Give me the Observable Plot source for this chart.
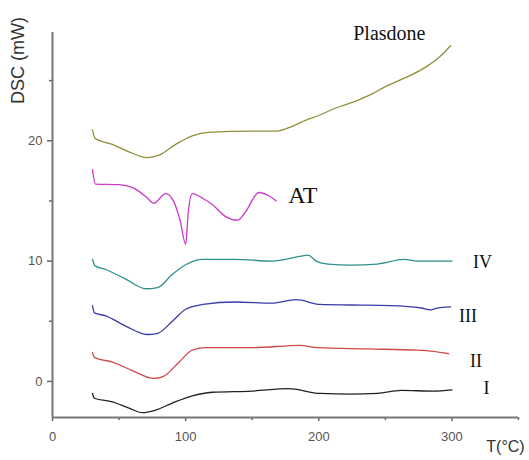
<!DOCTYPE html>
<html>
<head>
<meta charset="utf-8">
<script src="https://cdn.jsdelivr.net/npm/d3@7"></script>
<script src="https://cdn.jsdelivr.net/npm/@observablehq/plot@0.6"></script>
<style>
  html, body { margin: 0; padding: 0; background: #fff; }
</style>
</head>
<body>
<div id="chart"></div>
<script>
// Temperature (°C) and DSC (mW) readings for each curve
const plasdoneT = [30, 32, 45, 57, 71, 80, 92.5, 105, 117, 150, 168, 180, 190, 200, 210, 220, 230, 240, 250, 260, 270, 280, 290, 299];
const plasdoneV = [20.9, 20.2, 19.7, 19.1, 18.6, 18.8, 19.7, 20.4, 20.7, 20.8, 20.8, 21.2, 21.7, 22.1, 22.6, 23.0, 23.4, 23.9, 24.5, 25.0, 25.5, 26.1, 26.9, 27.9];

const atT = [30, 32.3, 49.6, 62, 71.6, 76, 85, 91, 96, 100, 102, 105, 113, 120, 130, 139, 145, 155, 162, 168];
const atV = [17.6, 16.4, 16.35, 16.0, 15.2, 14.8, 15.6, 14.96, 13.3, 11.4, 14.1, 15.6, 15.2, 14.7, 13.7, 13.4, 14.1, 15.7, 15.45, 15.0];

const ivT = [30, 32, 40, 55, 70, 79, 90, 100, 113, 137, 165, 186, 192, 198, 207, 224, 244, 264, 274, 300];
const ivV = [10.15, 9.6, 9.3, 8.5, 7.7, 7.8, 8.9, 9.7, 10.15, 10.15, 10.0, 10.4, 10.5, 10.0, 9.75, 9.67, 9.75, 10.15, 10.0, 10.0];

const iiiT = [30, 31.5, 40, 55, 71, 79, 90, 100, 113, 137, 165, 183, 201, 224, 254, 277, 284, 289, 299];
const iiiV = [6.3, 5.7, 5.45, 4.6, 3.9, 4.0, 5.0, 6.0, 6.4, 6.6, 6.5, 6.8, 6.4, 6.35, 6.3, 6.1, 5.95, 6.1, 6.2];

const iiT = [30, 31.5, 45, 60, 76, 83, 95, 105, 115, 150, 186, 199, 237, 274, 286, 297.5];
const iiV = [2.4, 2.0, 1.6, 0.9, 0.25, 0.4, 1.6, 2.6, 2.8, 2.8, 3.0, 2.8, 2.7, 2.6, 2.5, 2.3];

const iT = [30, 31.5, 45, 57, 67.5, 77, 90, 105, 120, 150, 177, 201, 224, 244, 262, 286, 300];
const iV = [-1.0, -1.4, -1.7, -2.2, -2.6, -2.4, -1.8, -1.2, -0.9, -0.8, -0.6, -1.0, -1.05, -1.0, -0.75, -0.8, -0.7];

const seriesNames = ["Plasdone", "AT", "IV", "III", "II", "I"];
const seriesColors = ["#8f8f3a", "#cc3acc", "#2f8f8f", "#3a3aa8", "#d04a4a", "#222222"];

// Curve labels: position in data units
const labelT = [253, 188, 323, 312, 318, 326];
const labelV = [28.4, 14.8, 9.4, 4.9, 1.16, -1.07];
const labelSize = [20, 24, 18, 18, 18, 18];

const xMajor = [0, 100, 200, 300];
const xMinor = [50, 150, 250, 350];
const yMajor = [0, 10, 20];
const yMinor = [5, 15, 25];

const xDomain = [0, 350];
const yDomain = [-3, 29];

const allT = [plasdoneT, atT, ivT, iiiT, iiT, iT];
const allV = [plasdoneV, atV, ivV, iiiV, iiV, iV];
const rows = [];
seriesNames.forEach((name, k) => {
  allT[k].forEach((t, j) => rows.push({series: name, T: t, V: allV[k][j]}));
});
const labels = seriesNames.map((name, k) => ({name, T: labelT[k], V: labelV[k], size: labelSize[k]}));

const chart = Plot.plot({
  width: 529,
  height: 460,
  marginLeft: 52,
  marginRight: 11,
  marginTop: 32,
  marginBottom: 43,
  style: {fontFamily: "'Liberation Sans', Arial, sans-serif", color: "#555", background: "#fff"},
  x: {domain: xDomain},
  y: {domain: yDomain},
  color: {domain: seriesNames, range: seriesColors},
  marks: [
    Plot.axisY(yMajor, {tickSize: 5, tickPadding: 5, fontSize: 13, stroke: "#666", strokeWidth: 1.5, label: null}),
    Plot.axisY(yMinor, {tickSize: 3, tickFormat: () => "", stroke: "#666", strokeWidth: 1.5, label: null}),
    Plot.axisX(xMajor, {tickSize: 4, tickPadding: 10, fontSize: 13, stroke: "#666", strokeWidth: 1.5, label: null}),
    Plot.axisX(xMinor, {tickSize: 3, tickFormat: () => "", stroke: "#666", strokeWidth: 1.5, label: null}),
    Plot.ruleX([xDomain[0]], {y1: yDomain[0], y2: yDomain[1], stroke: "#777", strokeWidth: 2}),
    Plot.ruleY([yDomain[0]], {x1: xDomain[0], x2: xDomain[1], stroke: "#777", strokeWidth: 2}),
    Plot.line(rows, {x: "T", y: "V", z: "series", stroke: "series", strokeWidth: 1.3, curve: "monotone-x"}),
    Plot.text(labels, {x: "T", y: "V", text: "name", fontSize: d => d.size, lineAnchor: "bottom",
      fill: "#111", fontFamily: "'Liberation Serif', 'Times New Roman', serif"}),
    Plot.text(["DSC (mW)"], {frameAnchor: "top-left", rotate: -90, dx: -34, dy: 28, fontSize: 18,
      fill: "#333", textAnchor: "middle", lineAnchor: "middle"}),
    Plot.text(["T(°C)"], {frameAnchor: "bottom-right", dx: -13, dy: 29, fontSize: 16,
      fill: "#333", textAnchor: "middle", lineAnchor: "middle"})
  ]
});
document.getElementById("chart").appendChild(chart);
</script>
</body>
</html>
